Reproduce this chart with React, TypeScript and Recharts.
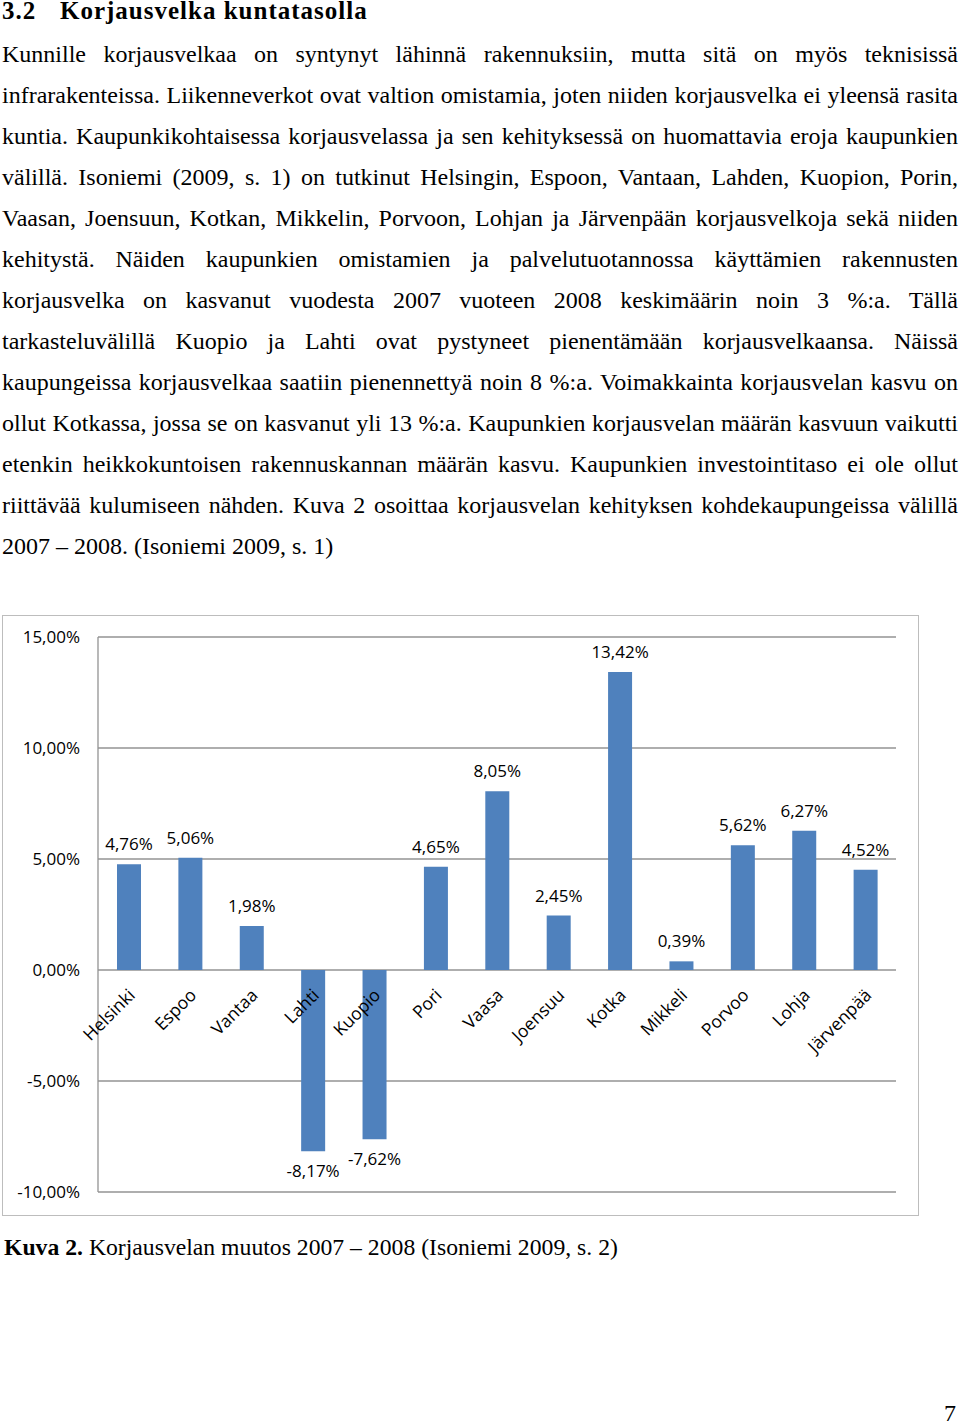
import React from 'react';
import { BarChart, Bar, XAxis, YAxis, CartesianGrid, LabelList } from 'recharts';

const cities = ['Helsinki', 'Espoo', 'Vantaa', 'Lahti', 'Kuopio', 'Pori', 'Vaasa', 'Joensuu', 'Kotka', 'Mikkeli', 'Porvoo', 'Lohja', 'Järvenpää'];
const changes = [4.76, 5.06, 1.98, -8.17, -7.62, 4.65, 8.05, 2.45, 13.42, 0.39, 5.62, 6.27, 4.52];
const yTicks = [-10, -5, 0, 5, 10, 15];

const bodyLines = [
  'Kunnille korjausvelkaa on syntynyt lähinnä rakennuksiin, mutta sitä on myös teknisissä',
  'infrarakenteissa. Liikenneverkot ovat valtion omistamia, joten niiden korjausvelka ei yleensä rasita',
  'kuntia. Kaupunkikohtaisessa korjausvelassa ja sen kehityksessä on huomattavia eroja kaupunkien',
  'välillä. Isoniemi (2009, s. 1) on tutkinut Helsingin, Espoon, Vantaan, Lahden, Kuopion, Porin,',
  'Vaasan, Joensuun, Kotkan, Mikkelin, Porvoon, Lohjan ja Järvenpään korjausvelkoja sekä niiden',
  'kehitystä. Näiden kaupunkien omistamien ja palvelutuotannossa käyttämien rakennusten',
  'korjausvelka on kasvanut vuodesta 2007 vuoteen 2008 keskimäärin noin 3 %:a. Tällä',
  'tarkasteluvälillä Kuopio ja Lahti ovat pystyneet pienentämään korjausvelkaansa. Näissä',
  'kaupungeissa korjausvelkaa saatiin pienennettyä noin 8 %:a. Voimakkainta korjausvelan kasvu on',
  'ollut Kotkassa, jossa se on kasvanut yli 13 %:a. Kaupunkien korjausvelan määrän kasvuun vaikutti',
  'etenkin heikkokuntoisen rakennuskannan määrän kasvu. Kaupunkien investointitaso ei ole ollut',
  'riittävää kulumiseen nähden. Kuva 2 osoittaa korjausvelan kehityksen kohdekaupungeissa välillä',
  '2007 – 2008. (Isoniemi 2009, s. 1)',
];

const data = cities.map((city, i) => ({ city, value: changes[i] }));

const CHART_W = 915;
const CHART_H = 599;
const X_AXIS_H = 23;
const MARGIN = { top: 21, right: 22, bottom: 0, left: 0 };
const Y_MIN = -10;
const Y_MAX = 15;
const PLOT_H = CHART_H - MARGIN.top - MARGIN.bottom - X_AXIS_H;
const ZERO_FROM_BOTTOM = (PLOT_H * (0 - Y_MIN)) / (Y_MAX - Y_MIN);

const chartFont = '"Open Sans", sans-serif';
const serif = '"Liberation Serif", "Times New Roman", serif';

const pct = (v: number) => `${v.toFixed(2).replace('.', ',')}%`;

// category labels sit under the zero line, not at the bottom of the plot
const CityTick = (props: any) => {
  const { x, y, payload } = props;
  const zy = y - ZERO_FROM_BOTTOM;
  return (
    <g transform={`translate(${x + 3},${zy + 22})`}>
      <text textAnchor="end" transform="rotate(-45)" dy="0.35em" fontSize={17.5} fontFamily={chartFont} fill="#000">
        {payload.value}
      </text>
    </g>
  );
};

const App: React.FC = () => {
  return (
    <div style={{ position: 'absolute', left: 0, top: 0, width: 960, height: 1425, background: '#fff', color: '#000' }}>
      <div style={{ position: 'absolute', left: 2, top: -6, fontFamily: serif, fontWeight: 'bold', fontSize: 25, letterSpacing: 1, lineHeight: '34px', whiteSpace: 'nowrap' }}>
        <span style={{ position: 'absolute', left: 0 }}>3.2</span>
        <span style={{ position: 'absolute', left: 58 }}>Korjausvelka kuntatasolla</span>
      </div>

      <div style={{ position: 'absolute', left: 2, top: 34, width: 956, fontFamily: serif, fontSize: 24 }}>
        {bodyLines.map((line, i) => (
          <div
            key={i}
            style={{
              height: 41,
              lineHeight: '41px',
              textAlign: i === bodyLines.length - 1 ? 'left' : 'justify',
              textAlignLast: i === bodyLines.length - 1 ? 'left' : 'justify',
            }}
          >
            {line}
          </div>
        ))}
      </div>

      <div style={{ position: 'absolute', left: 2, top: 615, width: 917, height: 601, border: '1px solid #bdbdbd', boxSizing: 'border-box', background: '#fff' }}>
        <BarChart width={CHART_W} height={CHART_H} data={data} margin={MARGIN}>
          <CartesianGrid vertical={false} stroke="#939393" strokeWidth={1.3} />
          <XAxis
            dataKey="city"
            axisLine={false}
            tickLine={false}
            tickSize={0}
            tickMargin={0}
            height={X_AXIS_H}
            interval={0}
            tick={(p: any) => <CityTick {...p} />}
          />
          <YAxis
            domain={[Y_MIN, Y_MAX]}
            ticks={yTicks}
            tickFormatter={(v: number) => pct(v)}
            width={95}
            axisLine={{ stroke: '#939393', strokeWidth: 1.3 }}
            tickLine={false}
            tickSize={0}
            tickMargin={18}
            tick={{ fontSize: 17, fill: '#000', fontFamily: chartFont }}
          />
          <Bar dataKey="value" fill="#4f81bd" barSize={24} isAnimationActive={false}>
            <LabelList
              dataKey="value"
              position="top"
              offset={14}
              formatter={(v: any) => pct(Number(v))}
              style={{ fontSize: 17, fill: '#000', fontFamily: chartFont }}
            />
          </Bar>
        </BarChart>
      </div>

      <div style={{ position: 'absolute', left: 4, top: 1227, fontFamily: serif, fontSize: 23.7, lineHeight: '41px', whiteSpace: 'nowrap' }}>
        <b>Kuva 2.</b> Korjausvelan muutos 2007 – 2008 (Isoniemi 2009, s. 2)
      </div>

      <div style={{ position: 'absolute', right: 4, top: 1393, fontFamily: serif, fontSize: 24, lineHeight: '41px' }}>7</div>
    </div>
  );
};

export default App;
